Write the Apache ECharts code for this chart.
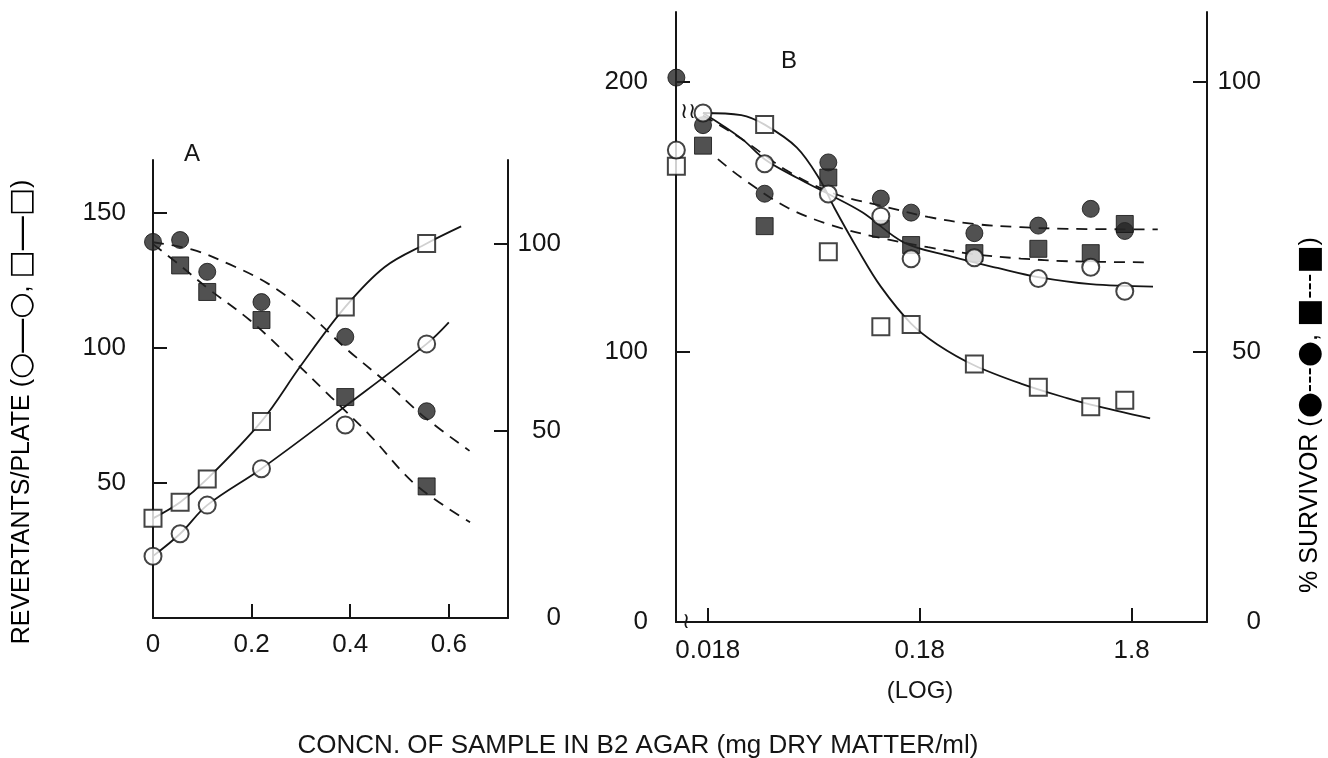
<!DOCTYPE html>
<html>
<head>
<meta charset="utf-8">
<title>Revertants and survivors</title>
<script src="https://cdn.jsdelivr.net/npm/echarts@6/dist/echarts.min.js"></script>
<style>
  html, body { margin: 0; padding: 0; background: #fff; }
  #chart { width: 1328px; height: 758px; }
</style>
</head>
<body>
<div id="chart"></div>
<script>
// ---- panel A (linear dose) ----
const doseA = [0, 0.055, 0.11, 0.22, 0.39, 0.555]
const openSquareA = [36.9, 42.9, 51.5, 72.8, 115.2, 138.7]
const openCircleA = [22.9, 31.2, 41.8, 55.3, 71.5, 101.5]
const filledCircleA = [100.6, 101.1, 92.6, 84.5, 75.2, 55.3]
const filledSquareA = [null, 94.3, 87.2, 79.7, 59.1, 35.2]

// hand drawn fit curves of panel A
const squareFitAx = [0, 0.055, 0.11, 0.22, 0.3, 0.39, 0.47, 0.555, 0.625]
const squareFitAy = [36.9, 42.9, 51.5, 72.8, 93.5, 115.2, 130, 138.7, 145]
const circleFitAx = [0, 0.055, 0.11, 0.22, 0.39, 0.555, 0.6]
const circleFitAy = [22.9, 31.2, 41.8, 55.3, 78.4, 101.5, 109.5]
const upperDashAx = [0, 0.08, 0.157, 0.235, 0.314, 0.392, 0.47, 0.55, 0.642]
const upperDashAy = [100.5, 98.5, 94.5, 89.3, 81.6, 72, 63.4, 53.8, 44.7]
const lowerDashAx = [0, 0.055, 0.11, 0.196, 0.282, 0.361, 0.439, 0.533, 0.643]
const lowerDashAy = [100, 94.3, 88.3, 79.7, 69.2, 59.1, 49, 35.6, 25.6]

// ---- panel B (log dose, first column = control drawn on the axis) ----
const doseB = [0.0128, 0.0171, 0.0334, 0.0667, 0.118, 0.164, 0.326, 0.653, 1.154, 1.67]
const openSquareB = [168.8, null, 184.2, 137.1, 109.3, 110.2, 95.5, 86.9, 79.7, 82.1]
const openCircleB = [174.8, 188.5, 169.7, 158.5, 150.3, 134.5, 134.9, 127.2, 131.4, 122.5]
const filledCircleB = [100.8, 92, 79.3, 85.1, 78.4, 75.8, 72, 73.4, 76.5, 72.4]
const filledSquareB = [null, 88.2, 73.3, 82.3, 72.8, 69.8, 68.3, 69.1, 68.3, 73.7]

const squareFitBx = [0.0171, 0.0259, 0.0334, 0.0474, 0.061, 0.0712, 0.0918, 0.118, 0.164, 0.218, 0.325, 0.54, 0.9, 1.154, 2.2]
const squareFitBy = [188.5, 187.7, 184.2, 175.7, 163.7, 153.4, 138, 124.2, 110.5, 102.8, 95.1, 88.3, 82.8, 80.5, 75.4]
const circleFitBx = [0.0171, 0.0259, 0.0334, 0.0474, 0.0667, 0.0965, 0.152, 0.252, 0.419, 0.653, 1.154, 2.27]
const circleFitBy = [188.5, 179.1, 171.4, 164.5, 158.5, 151.7, 140.5, 135.4, 131.1, 127.7, 125.1, 124.2]
const upperDashBx = [0.0171, 0.0259, 0.0429, 0.0712, 0.118, 0.197, 0.325, 0.54, 0.9, 2.39]
const upperDashBy = [93.8, 89.5, 83.5, 79.3, 77.1, 75, 73.7, 73.1, 72.8, 72.7]
const lowerDashBx = [0.0201, 0.0259, 0.0429, 0.0712, 0.118, 0.197, 0.325, 0.54, 0.9, 2.2]
const lowerDashBy = [85.7, 82.3, 76.7, 73.3, 71.1, 69.4, 68.1, 67.3, 66.8, 66.6]

// tick labels
const ticksAx = [0, 0.2, 0.4, 0.6]
const ticksAleft = [50, 100, 150]
const ticksAright = [0, 50, 100]
const ticksBx = [0.018, 0.18, 1.8]
const ticksBleft = [0, 100, 200]
const ticksBright = [0, 50, 100]

const ink = '#151515'
const font = '"Liberation Sans", Arial, Helvetica, sans-serif'

function pairs(xs, ys) {
  return xs.map((x, i) => [x, ys[i]]).filter(p => p[1] != null)
}

function axisBase(extra) {
  return Object.assign({
    splitLine: { show: false },
    axisLine: { show: true, onZero: false, lineStyle: { color: ink, width: 2 } },
    axisTick: { show: true, inside: true, length: 14, lineStyle: { color: ink, width: 2 } },
    axisLabel: { color: ink, fontSize: 26, fontFamily: font }
  }, extra)
}

function marks(name, xi, yi, xs, ys, symbol, filled) {
  return {
    name: name,
    type: 'scatter',
    xAxisIndex: xi,
    yAxisIndex: yi,
    symbol: symbol,
    symbolSize: 17,
    z: filled ? 4 : 5,
    itemStyle: filled
      ? { color: '#262626', borderColor: '#111', borderWidth: 1 }
      : { color: '#fff', borderColor: ink, borderWidth: 2 },
    data: pairs(xs, ys)
  }
}

function fit(name, xi, yi, xs, ys, dashed) {
  return {
    name: name,
    type: 'line',
    xAxisIndex: xi,
    yAxisIndex: yi,
    smooth: 0.35,
    showSymbol: false,
    silent: true,
    z: 2,
    lineStyle: { color: ink, width: 1.8, type: dashed ? [11, 8] : 'solid' },
    data: pairs(xs, ys)
  }
}

const chart = echarts.init(document.getElementById('chart'))

const sideRich = {
  t: { fontSize: 25, fontFamily: font, color: ink },
  s: { fontSize: 30, fontFamily: '"DejaVu Sans", sans-serif', color: ink },
  l: { fontSize: 34, fontFamily: font, color: ink }
}

chart.setOption({
  backgroundColor: '#fff',
  animation: false,
  grid: [
    { left: 153, top: 160, width: 355, height: 458 },
    { left: 676, top: 12, width: 531, height: 610 }
  ],
  xAxis: [
    axisBase({
      gridIndex: 0, type: 'value', min: 0, max: 0.72,
      axisTick: { show: true, inside: true, length: 14, lineStyle: { color: ink, width: 2 }, customValues: [0.2, 0.4, 0.6] },
      axisLabel: { color: ink, fontSize: 26, fontFamily: font, margin: 14, customValues: ticksAx, formatter: v => String(v) }
    }),
    axisBase({
      gridIndex: 1, type: 'log', logBase: 10, min: 0.01275, max: 4.08,
      axisTick: { show: true, inside: true, length: 14, lineStyle: { color: ink, width: 2 }, customValues: ticksBx },
      axisLabel: { color: ink, fontSize: 26, fontFamily: font, margin: 16, customValues: ticksBx, formatter: v => String(+(+v).toPrecision(3)) }
    })
  ],
  yAxis: [
    axisBase({
      gridIndex: 0, type: 'value', position: 'left', min: 0, max: 169.6,
      axisTick: { show: true, inside: true, length: 14, lineStyle: { color: ink, width: 2 }, customValues: ticksAleft },
      axisLabel: { color: ink, fontSize: 26, fontFamily: font, margin: 27, customValues: ticksAleft }
    }),
    axisBase({
      gridIndex: 0, type: 'value', position: 'right', min: 0, max: 122.5,
      axisTick: { show: true, inside: true, length: 14, lineStyle: { color: ink, width: 2 }, customValues: [50, 100] },
      axisLabel: { color: ink, fontSize: 26, fontFamily: font, margin: 53, align: 'right', customValues: ticksAright }
    }),
    axisBase({
      gridIndex: 1, type: 'value', position: 'left', min: 0, max: 225.9,
      axisTick: { show: true, inside: true, length: 14, lineStyle: { color: ink, width: 2 }, customValues: [100, 200] },
      axisLabel: { color: ink, fontSize: 26, fontFamily: font, margin: 28, customValues: ticksBleft }
    }),
    axisBase({
      gridIndex: 1, type: 'value', position: 'right', min: 0, max: 112.95,
      axisTick: { show: true, inside: true, length: 14, lineStyle: { color: ink, width: 2 }, customValues: [50, 100] },
      axisLabel: { color: ink, fontSize: 26, fontFamily: font, margin: 54, align: 'right', customValues: ticksBright }
    })
  ],
  series: [
    fit('A revertants square fit', 0, 0, squareFitAx, squareFitAy, false),
    fit('A revertants circle fit', 0, 0, circleFitAx, circleFitAy, false),
    fit('A survivor circle fit', 0, 1, upperDashAx, upperDashAy, true),
    fit('A survivor square fit', 0, 1, lowerDashAx, lowerDashAy, true),
    marks('A revertants square', 0, 0, doseA, openSquareA, 'rect', false),
    marks('A revertants circle', 0, 0, doseA, openCircleA, 'circle', false),
    marks('A survivor circle', 0, 1, doseA, filledCircleA, 'circle', true),
    marks('A survivor square', 0, 1, doseA, filledSquareA, 'rect', true),

    fit('B revertants square fit', 1, 2, squareFitBx, squareFitBy, false),
    fit('B revertants circle fit', 1, 2, circleFitBx, circleFitBy, false),
    fit('B survivor circle fit', 1, 3, upperDashBx, upperDashBy, true),
    fit('B survivor square fit', 1, 3, lowerDashBx, lowerDashBy, true),
    marks('B survivor circle', 1, 3, doseB, filledCircleB, 'circle', true),
    marks('B survivor square', 1, 3, doseB, filledSquareB, 'rect', true),
    marks('B revertants square', 1, 2, doseB, openSquareB, 'rect', false),
    marks('B revertants circle', 1, 2, doseB, openCircleB, 'circle', false)
  ],
  graphic: [
    { type: 'text', x: 192, y: 154, style: { text: 'A', font: '24px ' + font, fill: ink, align: 'center', verticalAlign: 'middle' } },
    { type: 'text', x: 789, y: 61, style: { text: 'B', font: '24px ' + font, fill: ink, align: 'center', verticalAlign: 'middle' } },
    { type: 'text', x: 920, y: 691, style: { text: '(LOG)', font: '24px ' + font, fill: ink, align: 'center', verticalAlign: 'middle' } },
    { type: 'text', x: 638, y: 746, style: { text: 'CONCN. OF SAMPLE IN B2 AGAR (mg DRY MATTER/ml)', font: '26px ' + font, fill: ink, align: 'center', verticalAlign: 'middle' } },
    {
      type: 'text', x: 22, y: 412, rotation: Math.PI / 2,
      style: { text: '{t|REVERTANTS/PLATE (}{s|○}{l|—}{s|○}{t|, }{s|□}{l|—}{s|□}{t|)}', rich: sideRich, align: 'center', verticalAlign: 'middle' }
    },
    {
      type: 'text', x: 1310, y: 415, rotation: Math.PI / 2,
      style: { text: '{t|% SURVIVOR (}{s|●}{t|---}{s|●}{t|, }{s|■}{t|---}{s|■}{t|)}', rich: sideRich, align: 'center', verticalAlign: 'middle' }
    },
    // axis break marks near the control column of panel B
    { type: 'text', x: 686, y: 622, style: { text: '≀', font: '22px ' + font, fill: ink, align: 'center', verticalAlign: 'middle' } },
    { type: 'text', x: 688, y: 112, style: { text: '≀≀', font: '22px ' + font, fill: ink, align: 'center', verticalAlign: 'middle' } }
  ]
})
</script>
</body>
</html>
